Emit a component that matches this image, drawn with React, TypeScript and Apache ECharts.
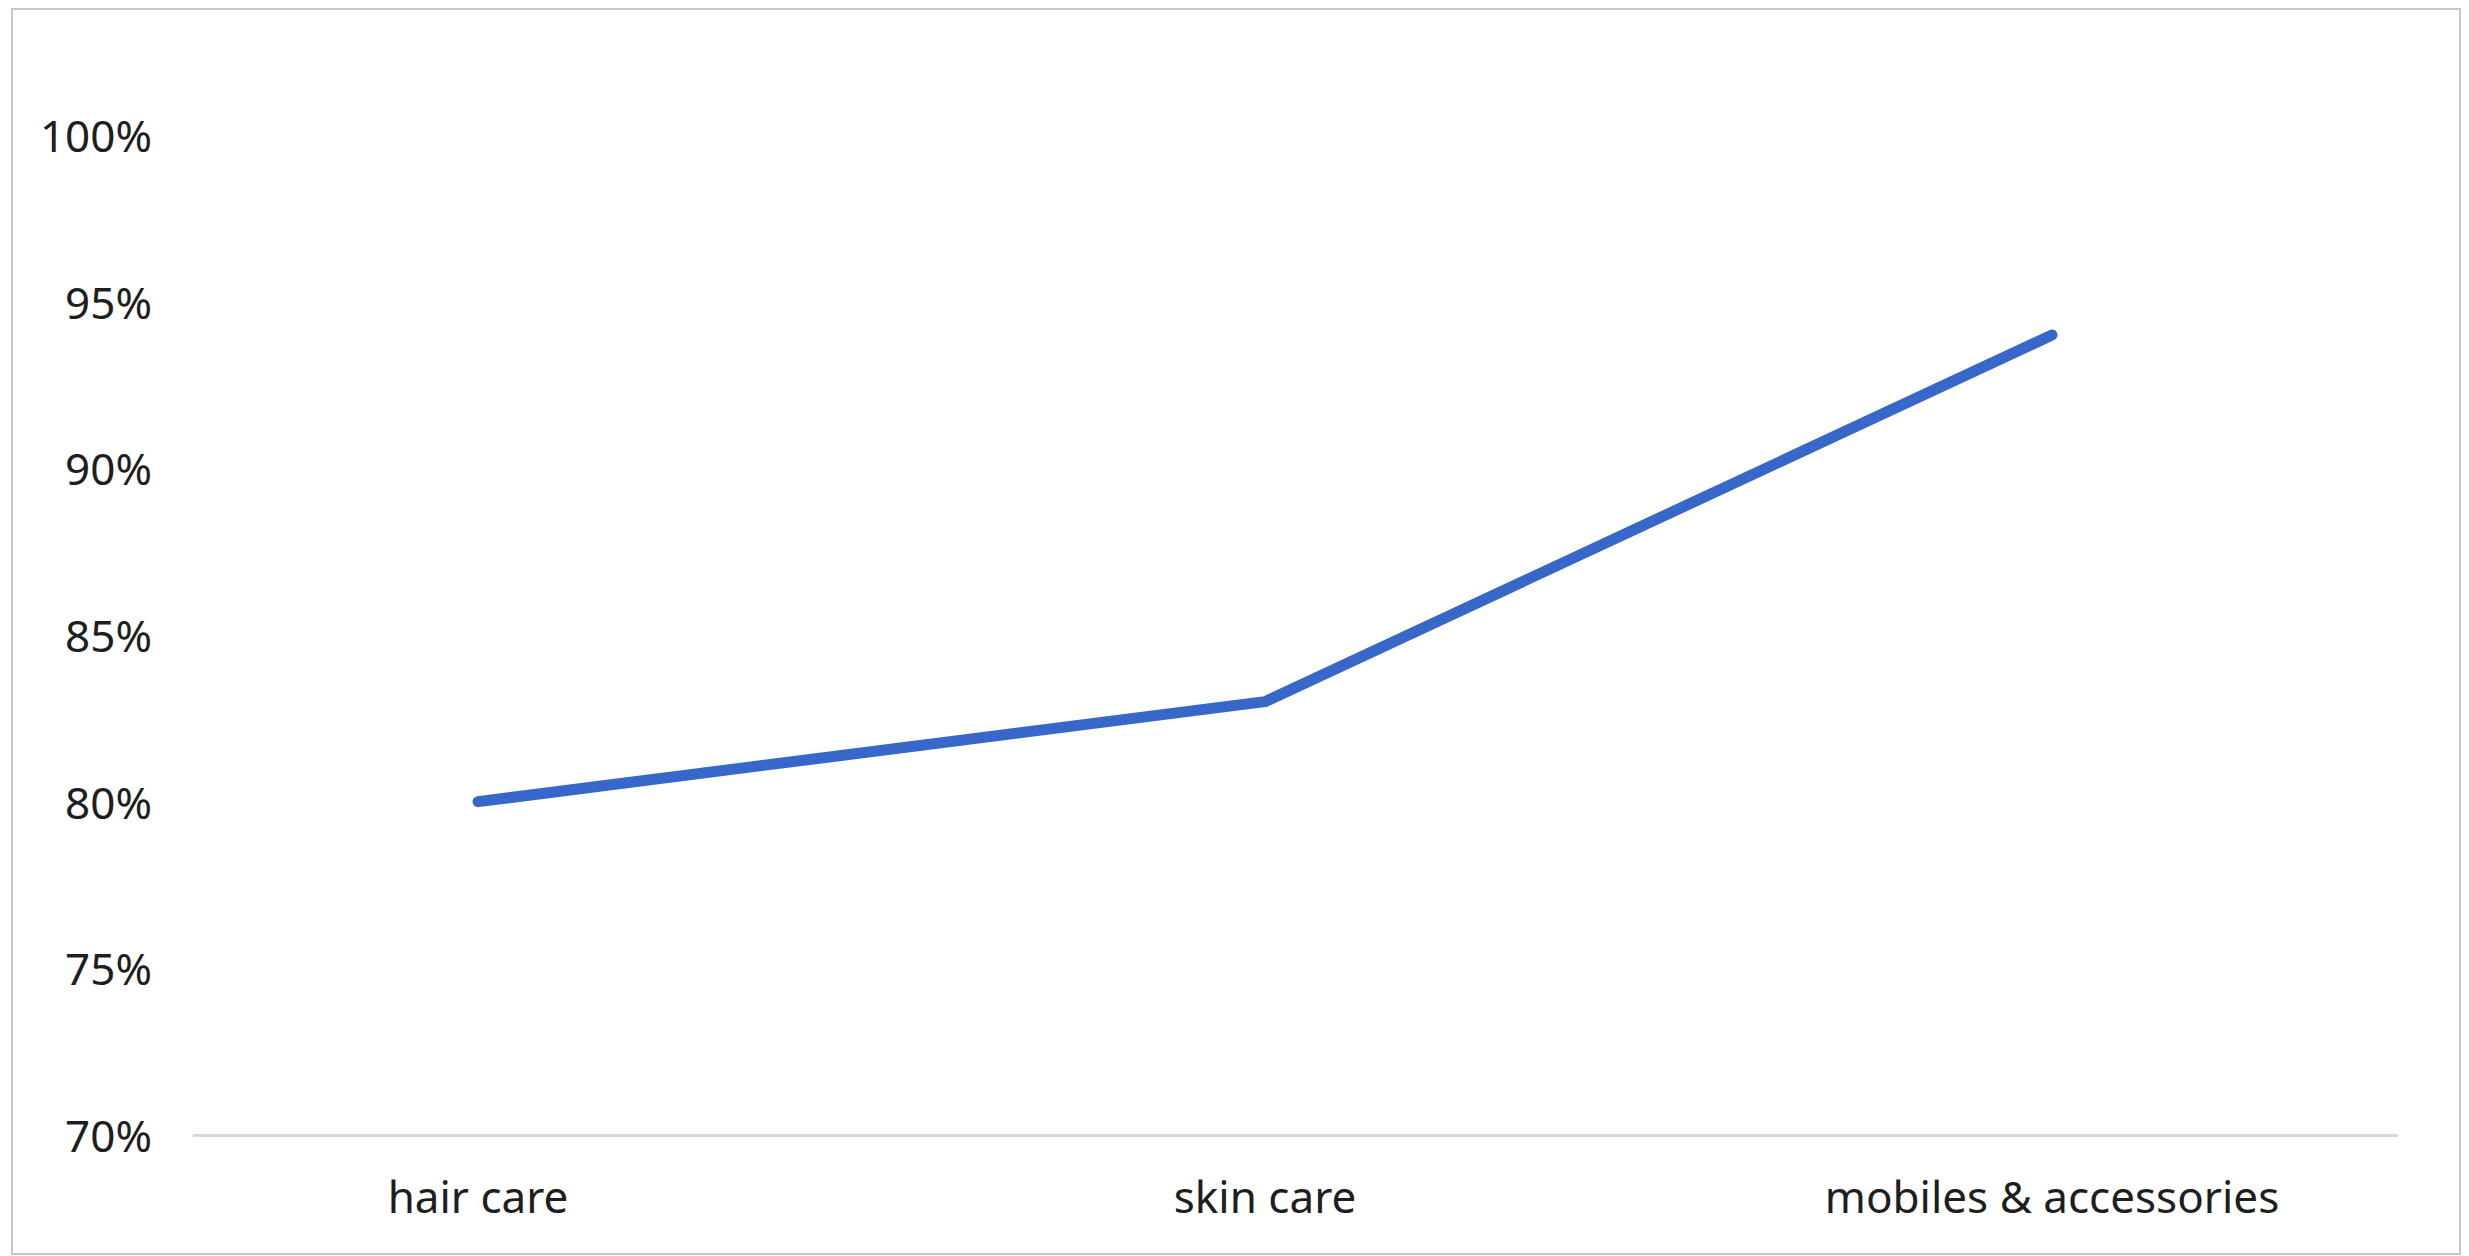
import React, { useEffect, useRef } from "react";
import * as echarts from "echarts";

const categories = ["hair care", "skin care", "mobiles & accessories"];
const values = [80, 83, 94];
const yMin = 70;
const yMax = 100;
const yStep = 5;

export default function App() {
  const ref = useRef<HTMLDivElement>(null);
  useEffect(() => {
    if (!ref.current) return;
    const chart = echarts.init(ref.current, null, { renderer: "svg" });
    const font = "'Noto Sans', 'Open Sans', sans-serif";
    chart.setOption({
      animation: false,
      backgroundColor: "#ffffff",
      graphic: [
        {
          type: "rect",
          shape: { x: 12, y: 9, width: 2448, height: 1245 },
          style: { fill: "none", stroke: "#c8c8c8", lineWidth: 2 },
          silent: true,
          z: 0,
        },
      ],
      grid: [
        { left: 84.5, right: 23.5, top: 135, bottom: 121 },
        { left: 194, right: 72, top: 135, bottom: 121 },
      ],
      xAxis: [
        {
          type: "category",
          gridIndex: 0,
          data: categories,
          boundaryGap: true,
          axisLine: { show: false },
          axisTick: { show: false },
          axisLabel: {
            margin: 39,
            fontSize: 44,
            fontFamily: font,
            color: "#1e1e1e",
          },
        },
        {
          type: "category",
          gridIndex: 1,
          data: categories,
          axisLine: { show: true, lineStyle: { color: "#d9d9d9", width: 3 } },
          axisTick: { show: false },
          axisLabel: { show: false },
        },
      ],
      yAxis: [
        {
          type: "value",
          gridIndex: 0,
          min: yMin,
          max: yMax,
          interval: yStep,
          show: false,
        },
        {
          type: "value",
          gridIndex: 1,
          min: yMin,
          max: yMax,
          interval: yStep,
          axisLine: { show: false },
          axisTick: { show: false },
          splitLine: { show: false },
          axisLabel: {
            margin: 42,
            fontSize: 44,
            fontFamily: font,
            color: "#1e1e1e",
            formatter: (v: number) => `${v}%`,
          },
        },
      ],
      series: [
        {
          type: "line",
          xAxisIndex: 0,
          yAxisIndex: 0,
          data: values,
          symbol: "none",
          lineStyle: { color: "#3767c9", width: 11, cap: "round", join: "round" },
          z: 3,
        },
      ],
    });
    return () => chart.dispose();
  }, []);
  return (
    <div
      ref={ref}
      style={{ position: "fixed", left: 0, top: 0, width: 2469, height: 1256 }}
    />
  );
}
